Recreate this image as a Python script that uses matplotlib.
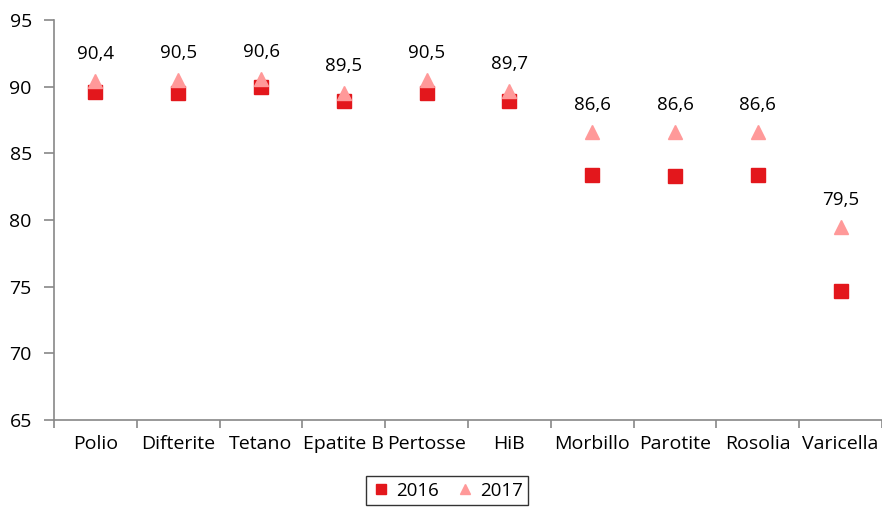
import numpy as np
import matplotlib
matplotlib.use("Agg")
import matplotlib.pyplot as plt

plt.rcParams['font.family'] = ['Open Sans', 'DejaVu Sans']

vaccini = ["Polio", "Difterite", "Tetano", "Epatite B", "Pertosse", "HiB",
           "Morbillo", "Parotite", "Rosolia", "Varicella"]
anno_2016 = [89.6, 89.5, 90.0, 88.9, 89.5, 88.9, 83.4, 83.3, 83.4, 74.7]
anno_2017 = [90.4, 90.5, 90.6, 89.5, 90.5, 89.7, 86.6, 86.6, 86.6, 79.5]

fig = plt.figure(figsize=(8.82, 5.09), dpi=100)
ax = fig.add_axes([54/882, 1-420/509, 1-54/882, 400/509])

x = np.arange(len(vaccini))
ax.plot(x, anno_2016, ls='none', marker='s', markersize=9.5, color='#E3171C', label='2016')
ax.plot(x, anno_2017, ls='none', marker='^', markersize=10.5, color='#FF9999', label='2017')

for xi, v in zip(x, anno_2017):
    ax.annotate(f"{v:.1f}".replace('.', ','), (xi, v), xytext=(0, 13),
                textcoords='offset points', ha='center', va='bottom', fontsize=13.5)

ax.set_xlim(-0.5, len(vaccini) - 0.5)
ax.set_ylim(65, 95)
ax.set_yticks(range(65, 96, 5))
ax.set_xticks(x)
ax.set_xticklabels(vaccini, fontsize=14)
ax.set_xticks(np.arange(-0.5, len(vaccini), 1), minor=True)
ax.tick_params(axis='x', which='major', length=0, pad=11)
ax.tick_params(axis='x', which='minor', length=6, color='#888888', width=1.2)
ax.tick_params(axis='y', length=7, color='#888888', width=1.2, labelsize=14, pad=9)

for s in ['top', 'right']:
    ax.spines[s].set_visible(False)
for s in ['left', 'bottom']:
    ax.spines[s].set_color('#888888')
    ax.spines[s].set_linewidth(1.2)

leg = fig.legend(loc='upper center', bbox_to_anchor=(447/882, 1-476/509), ncol=2,
                 frameon=True, fancybox=False, edgecolor='black', fontsize=13.5,
                 handletextpad=0.3, columnspacing=0.9, handlelength=1.0,
                 borderpad=0.3, borderaxespad=0, markerscale=0.75)
leg.get_frame().set_linewidth(1.0)

fig.savefig("out.png", dpi=100)
